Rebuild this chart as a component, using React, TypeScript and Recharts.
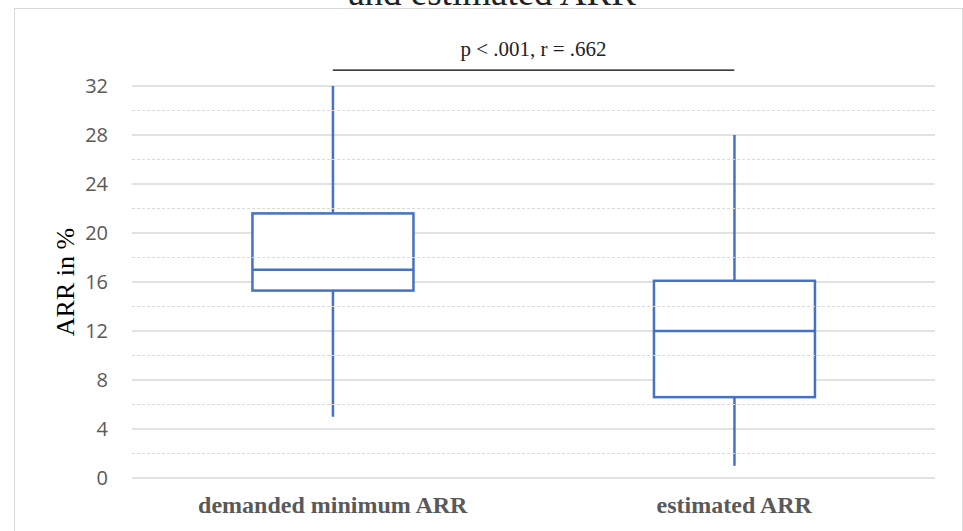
import { ComposedChart, Bar, XAxis, YAxis, CartesianGrid, ReferenceLine } from 'recharts';

const categories = ['demanded minimum ARR', 'estimated ARR'];
const mins = [5, 1];
const q1s = [15.3, 6.6];
const medians = [17, 12];
const q3s = [21.6, 16.1];
const maxs = [32, 28];

const yTicks = [0, 4, 8, 12, 16, 20, 24, 28, 32];
const minorTicks = [2, 6, 10, 14, 18, 22, 26, 30];
const bracketY = 33.3;
const statText = 'p < .001, r = .662';
const titleTail = 'and estimated ARR';

const BLUE = '#4472C4';
const GRID = '#d9d9d9';

const data = categories.map((name, i) => ({
  name,
  min: mins[i],
  q1: q1s[i],
  median: medians[i],
  q3: q3s[i],
  max: maxs[i],
}));

function BoxShape(props: any) {
  const { x, y, width, height, payload } = props;
  if (!payload) return null;
  const { min, q1, median, q3, max } = payload;
  const per = height / (max - min);
  const toY = (v: number) => y + (max - v) * per;
  const cx = x + width / 2;
  return (
    <g fill="none" stroke={BLUE} strokeWidth={2.5}>
      <line x1={cx} x2={cx} y1={toY(max)} y2={toY(q3)} />
      <line x1={cx} x2={cx} y1={toY(q1)} y2={toY(min)} />
      <rect x={x} y={toY(q3)} width={width} height={toY(q1) - toY(q3)} fill="#fff" />
      <line x1={x} x2={x + width} y1={toY(median)} y2={toY(median)} />
    </g>
  );
}

export default function App() {
  return (
    <div style={{ position: 'absolute', left: 0, top: 0, width: 963, height: 531, overflow: 'hidden', background: '#fff' }}>
      <div
        style={{
          position: 'absolute',
          left: 14,
          top: 8,
          width: 947,
          height: 540,
          borderLeft: `1.5px solid ${GRID}`,
          borderTop: `1.5px solid ${GRID}`,
          borderRight: `1.5px solid ${GRID}`,
        }}
      />
      <svg width={963} height={20} style={{ position: 'absolute', left: 0, top: 0 }}>
        <text x={492} y={5} textAnchor="middle" fill="#222" fontFamily='"Liberation Serif", serif' fontSize={37}>
          {titleTail}
        </text>
      </svg>
      <ComposedChart
        width={963}
        height={531}
        data={data}
        margin={{ top: 86, right: 28, bottom: 0, left: 40 }}
        barCategoryGap="30%"
        style={{ position: 'absolute', left: 0, top: 0 }}
      >
        <CartesianGrid vertical={false} stroke={GRID} strokeWidth={1.5} />
        {minorTicks.map((v) => (
          <ReferenceLine key={v} y={v} stroke={GRID} strokeWidth={1.2} strokeDasharray="3 2" />
        ))}
        <XAxis
          dataKey="name"
          axisLine={false}
          tickLine={false}
          tickSize={0}
          tickMargin={18}
          height={53}
          tick={{ fill: '#595959', fontFamily: '"Liberation Serif", serif', fontWeight: 'bold', fontSize: 24 }}
        />
        <YAxis
          domain={[0, 32]}
          ticks={yTicks}
          axisLine={false}
          tickLine={false}
          tickSize={0}
          tickMargin={24}
          width={92}
          tick={{ fill: '#595959', fontFamily: '"Open Sans", sans-serif', fontSize: 20 }}
          label={{
            value: 'ARR in %',
            angle: -90,
            position: 'insideLeft',
            offset: 25,
            style: { textAnchor: 'middle', fill: '#000', fontFamily: '"Liberation Serif", serif', fontSize: 26 },
          }}
        />
        <Bar dataKey={(d: any) => [d.min, d.max]} shape={<BoxShape />} isAnimationActive={false} />
        <ReferenceLine
          segment={[
            { x: categories[0], y: bracketY },
            { x: categories[1], y: bracketY },
          ]}
          ifOverflow="visible"
          stroke="#000"
          strokeWidth={1.3}
          label={{
            value: statText,
            position: 'top',
            offset: 14,
            style: { fill: '#222', fontFamily: '"Liberation Serif", serif', fontSize: 21 },
          }}
        />
      </ComposedChart>
    </div>
  );
}
